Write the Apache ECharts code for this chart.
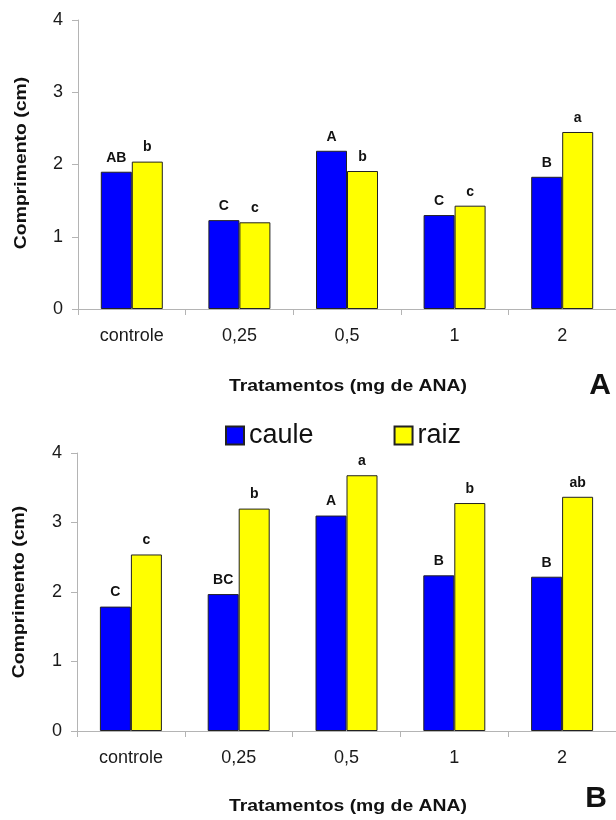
<!DOCTYPE html>
<html>
<head>
<meta charset="utf-8">
<script src="https://cdn.jsdelivr.net/npm/echarts@6/dist/echarts.min.js"></script>
<style>
  html, body { margin: 0; padding: 0; background: #fff; }
  #chart { width: 616px; height: 820px; }
</style>
</head>
<body>
<div id="chart"></div>
<script>
// Treatments (mg of ANA)
const categories = ['controle', '0,25', '0,5', '1', '2'];

// Panel A: length (cm)
const cauleA = [1.90, 1.23, 2.19, 1.30, 1.83];
const raizA = [2.04, 1.20, 1.91, 1.43, 2.45];
const lettersCauleA = ['AB', 'C', 'A', 'C', 'B'];
const lettersRaizA = ['b', 'c', 'b', 'c', 'a'];

// Panel B: length (cm)
const cauleB = [1.79, 1.97, 3.10, 2.24, 2.22];
const raizB = [2.54, 3.20, 3.68, 3.28, 3.37];
const lettersCauleB = ['C', 'BC', 'A', 'B', 'B'];
const lettersRaizB = ['c', 'b', 'a', 'b', 'ab'];

const FONT = "'Liberation Sans', Arial, sans-serif";
const AXIS_GREY = '#b4b4b4';
const BLUE = '#0000ff';
const YELLOW = '#ffff00';

function xAxisFor(gridIndex) {
  return {
    type: 'category',
    gridIndex: gridIndex,
    data: categories,
    axisLine: { lineStyle: { color: AXIS_GREY, width: 1 } },
    axisTick: { show: true, length: 6, lineStyle: { color: AXIS_GREY } },
    axisLabel: { color: '#1a1a1a', fontSize: 18, fontFamily: FONT, margin: 18 },
    splitLine: { show: false }
  };
}

function yAxisFor(gridIndex) {
  return {
    type: 'value',
    gridIndex: gridIndex,
    min: 0,
    max: 4,
    interval: 1,
    axisLine: { show: true, lineStyle: { color: AXIS_GREY, width: 1 } },
    axisTick: { show: true, length: 6, lineStyle: { color: AXIS_GREY } },
    axisLabel: { color: '#1a1a1a', fontSize: 18, fontFamily: FONT, margin: 15 },
    splitLine: { show: false }
  };
}

function barSeries(name, values, letters, color, axisIndex) {
  return {
    name: name,
    type: 'bar',
    xAxisIndex: axisIndex,
    yAxisIndex: axisIndex,
    data: values,
    barWidth: 31,
    barGap: '0%',
    itemStyle: { color: color, borderColor: '#222', borderWidth: 1 },
    label: {
      show: true,
      position: 'top',
      distance: 7,
      color: '#111',
      fontSize: 14,
      fontWeight: 'bold',
      fontFamily: FONT,
      formatter: function (p) { return letters[p.dataIndex]; }
    },
    emphasis: { disabled: true }
  };
}

function titleText(text, x, y, size, rotate, scale) {
  return {
    type: 'text',
    x: x,
    y: y,
    rotation: rotate ? Math.PI / 2 : 0,
    scaleX: scale,
    style: {
      text: text,
      font: 'bold ' + size + 'px ' + FONT,
      fill: '#111',
      textAlign: 'center',
      textVerticalAlign: 'middle'
    }
  };
}

const chart = echarts.init(document.getElementById('chart'), null, { renderer: 'canvas' });

chart.setOption({
  animation: false,
  backgroundColor: '#ffffff',
  grid: [
    { left: 78, top: 20, width: 542, height: 289 },
    { left: 77, top: 453, width: 540, height: 278 }
  ],
  legend: {
    data: ['caule', 'raiz'],
    left: 220,
    top: 417,
    itemWidth: 18,
    itemHeight: 18,
    itemGap: 80,
    icon: 'rect',
    textStyle: { fontSize: 27, color: '#111', fontFamily: FONT },
    selectedMode: false
  },
  xAxis: [xAxisFor(0), xAxisFor(1)],
  yAxis: [yAxisFor(0), yAxisFor(1)],
  series: [
    barSeries('caule', cauleA, lettersCauleA, BLUE, 0),
    barSeries('raiz', raizA, lettersRaizA, YELLOW, 0),
    barSeries('caule', cauleB, lettersCauleB, BLUE, 1),
    barSeries('raiz', raizB, lettersRaizB, YELLOW, 1)
  ],
  graphic: [
    titleText('Comprimento (cm)', 21, 163, 17, true, 1.14),
    titleText('Tratamentos (mg de ANA)', 348, 386, 17, false, 1.14),
    titleText('A', 600, 386, 30, false, 1),
    titleText('Comprimento (cm)', 19, 592, 17, true, 1.14),
    titleText('Tratamentos (mg de ANA)', 348, 806, 17, false, 1.14),
    titleText('B', 596, 799, 30, false, 1)
  ]
});
</script>
</body>
</html>
